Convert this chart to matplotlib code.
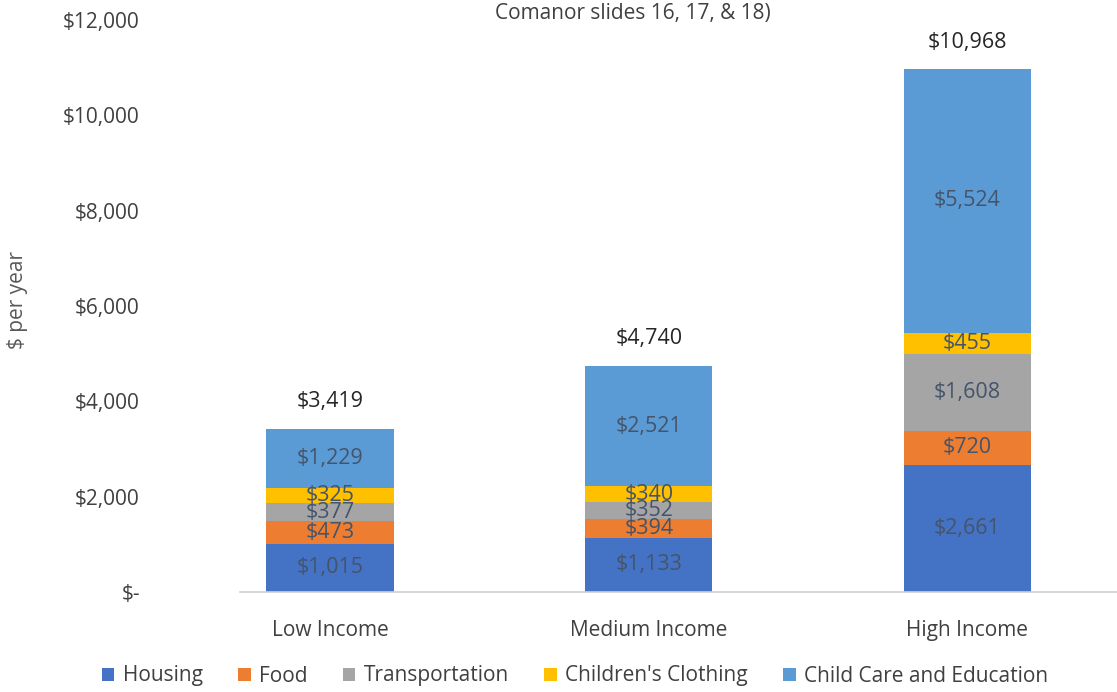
import matplotlib.pyplot as plt
import numpy as np

plt.rcParams['font.family'] = ['Open Sans', 'DejaVu Sans']

incomes = ['Low Income', 'Medium Income', 'High Income']
series = ['Housing', 'Food', 'Transportation', "Children's Clothing", 'Child Care and Education']
housing = [1015, 1133, 2661]
food = [473, 394, 720]
transportation = [377, 352, 1608]
clothing = [325, 340, 455]
childcare = [1229, 2521, 5524]
totals = [3419, 4740, 10968]
yticks = [0, 2000, 4000, 6000, 8000, 10000, 12000]
ytick_labels = ['$-', '$2,000', '$4,000', '$6,000', '$8,000', '$10,000', '$12,000']

colors = ['#4472C4', '#ED7D31', '#A5A5A5', '#FFC000', '#5B9BD5']

fig = plt.figure(figsize=(11.17, 6.92), dpi=100)
ax = fig.add_axes([240 / 1117, 100 / 692, 877 / 1117, 572 / 692])

x = np.arange(len(incomes))
bottom = np.zeros(len(incomes))
for name, vals, c in zip(series, [housing, food, transportation, clothing, childcare], colors):
    ax.bar(x, vals, 0.4, bottom=bottom, color=c, label=name)
    for xi, b, v in zip(x, bottom, vals):
        ax.text(xi, b + v / 2, '${:,}'.format(v), ha='center', va='center',
                fontsize=15.5, color='#44546A')
    bottom += np.array(vals)

for xi, t in zip(x, totals):
    ax.annotate('${:,}'.format(t), (xi, t), xytext=(0, 12), textcoords='offset points',
                ha='center', va='bottom', fontsize=15.5, color='#262626')

ax.set_xlim(-0.283, 2.47)
ax.set_ylim(0, 12000)
ax.set_yticks(yticks)
ax.set_yticklabels(ytick_labels)
ax.set_xticks(x)
ax.set_xticklabels(incomes)
ax.tick_params(axis='both', length=0, labelsize=15, colors='#404040')
ax.tick_params(axis='x', pad=20)
ax.tick_params(axis='y', pad=72)
for s in ['top', 'right', 'left']:
    ax.spines[s].set_visible(False)
ax.spines['bottom'].set_color('#D0D0D0')
ax.spines['bottom'].set_linewidth(1.2)

fig.text(18 / 1117, 1 - 300 / 692, '$ per year', rotation=90, ha='center', va='center',
         fontsize=15, color='#595959')
fig.text(633 / 1117, 1 - 14 / 692, 'Comanor slides 16, 17, & 18)', ha='center', va='center',
         fontsize=15, color='#404040')

fig.legend(loc='center', bbox_to_anchor=(575 / 1117, 1 - 676 / 692), ncol=5, frameon=False,
           fontsize=15, handlelength=0.6, handleheight=0.6, handletextpad=0.4,
           columnspacing=1.7, labelcolor='#404040')

fig.savefig('out.png', dpi=100)
